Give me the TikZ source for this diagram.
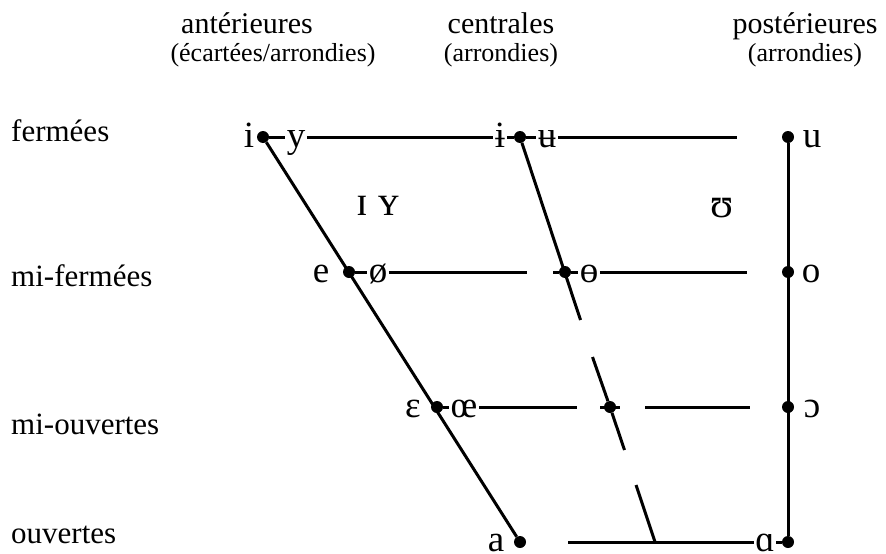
\documentclass[tikz,border=0pt]{standalone}
\usepackage{fontspec}
\setmainfont{Liberation Serif}
\begin{document}
\begin{tikzpicture}[x=1pt,y=-1pt,
  lbl/.style={anchor=base west,inner sep=0pt,font=\fontsize{31}{31}\selectfont},
  head/.style={anchor=base,inner sep=0pt,font=\fontsize{30}{30}\selectfont},
  sub/.style={anchor=base,inner sep=0pt,font=\fontsize{26}{26}\selectfont},
  vw/.style={anchor=base,inner sep=1.5pt,font=\fontsize{37}{37}\selectfont},
  sc/.style={anchor=base,inner sep=0pt,font=\fontsize{42}{42}\selectfont},
  dot/.style={circle,fill=black,inner sep=0pt,minimum size=12pt},
  ln/.style={line width=3pt}]
\useasboundingbox (0,0) rectangle (886,554);
% headers
\node[head] (hA) at (247,33) {antérieures};
\node[sub] (sA) at (273,61) {(écartées/arrondies)};
\node[head] (hC) at (501,33) {centrales};
\node[sub] (sC) at (501,61) {(arrondies)};
\node[head] (hP) at (805,33) {postérieures};
\node[sub] (sP) at (805,61) {(arrondies)};
% row labels
\node[lbl] (rF) at (11,141) {fermées};
\node[lbl] (rMF) at (11,286) {mi-fermées};
\node[lbl] (rMO) at (11,434) {mi-ouvertes};
\node[lbl] (rO) at (11,543) {ouvertes};
% dots
\node[dot] (d11) at (263,137) {};
\node[dot] (d12) at (520,137) {};
\node[dot] (d13) at (788,137) {};
\node[dot] (d21) at (349,272) {};
\node[dot] (d22) at (565,272) {};
\node[dot] (d23) at (788,272) {};
\node[dot] (d31) at (437,407) {};
\node[dot] (d32) at (610,407) {};
\node[dot] (d33) at (788,407) {};
\node[dot] (d41) at (520,542) {};
\node[dot] (d42) at (788,542) {};
% vowels
\node[vw] (vi) at (249,147.5) {i};
\node[vw] (vy) at (296,147.5) {y};
\node[vw] (vib) at (500,147.5) {ɨ};
\node[vw] (vub) at (547,147.5) {ʉ};
\node[vw] (vu) at (812,147.5) {u};
\node[sc] (vIY) at (378,215) {ɪ ʏ};
\node[sc] (vU) at (722,217) {ʊ};
\node[vw] (ve) at (321,282.5) {e};
\node[vw] (voe) at (378,282.5) {ø};
\node[vw] (vth) at (589,282.5) {ɵ};
\node[vw] (vo) at (811,282.5) {o};
\node[vw] (veps) at (413,417.5) {ɛ};
\node[vw] (voel) at (464,417.5) {œ};
\node[vw] (voo) at (812,417.5) {ɔ};
\node[vw] (va) at (496,551) {a};
\node[vw] (vaa) at (765,551) {ɑ};
% free ends
\coordinate (c1e) at (737,137);
\coordinate (c2a) at (527,272);
\coordinate (c2b) at (553,272);
\coordinate (c2e) at (747,272);
\coordinate (c3a) at (577,407);
\coordinate (c3b) at (600,407);
\coordinate (c3c) at (620,407);
\coordinate (c3d) at (645,407);
\coordinate (c3e) at (750,407);
\coordinate (c4a) at (568,542);
\coordinate (g1) at (580.5,320);
\coordinate (g2) at (592.5,357);
\coordinate (g3) at (624.5,450);
\coordinate (g4) at (636,485);
\coordinate (g5) at (655,542);
% horizontal lines
\draw[ln] (d11) -- (vy.west |- d11);
\draw[ln] (vy.east |- d11) -- (vib.west |- d11);
\draw[ln] (vib.east |- d12) -- (d12) -- (vub.west |- d12);
\draw[ln] (vub.east |- d12) -- (c1e);
\draw[ln] (d21) -- (voe.west |- d21);
\draw[ln] (voe.east |- d21) -- (c2a);
\draw[ln] (c2b) -- (d22) -- (vth.west |- d22);
\draw[ln] (vth.east |- d22) -- (c2e);
\draw[ln] (d31) -- (voel.west |- d31);
\draw[ln] (voel.east |- d31) -- (c3a);
\draw[ln] (c3b) -- (c3c);
\draw[ln] (c3d) -- (c3e);
\draw[ln] (c4a) -- (vaa.west |- d42);
\draw[ln] (vaa.east |- d42) -- (d42);
% diagonals / verticals
\draw[ln] (d11) -- (d41);
\draw[ln] (d12) -- (g1);
\draw[ln] (g2) -- (d32) -- (g3);
\draw[ln] (g4) -- (g5);
\draw[ln] (d13) -- (d42);
\end{tikzpicture}
\end{document}
